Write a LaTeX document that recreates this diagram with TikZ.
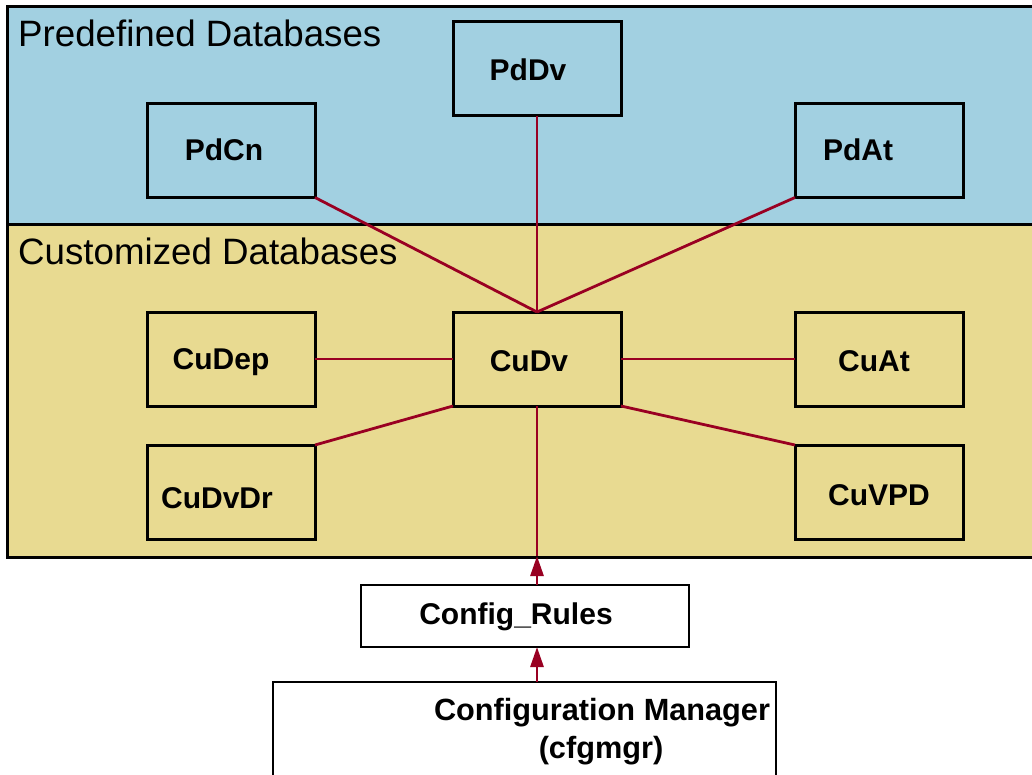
\documentclass[tikz,border=0pt]{standalone}
\usepackage{fontspec}
\setmainfont{Liberation Sans}
\usetikzlibrary{arrows.meta}
\definecolor{predblue}{RGB}{162,208,225}
\definecolor{custyellow}{RGB}{232,218,145}
\definecolor{linkred}{RGB}{153,0,34}
\tikzset{
  dbbox/.style={draw=black, line width=3pt, minimum width=168pt, minimum height=94pt, inner sep=0pt, outer sep=0pt},
  dblabel/.style={font=\fontsize{30}{32}\selectfont\bfseries, anchor=base, inner sep=0pt},
  mgrlabel/.style={font=\fontsize{30.7}{32}\selectfont\bfseries, anchor=base, inner sep=0pt},
  header/.style={font=\fontsize{36.7}{38}\selectfont, anchor=base west, inner sep=0pt},
  cfgbox/.style={draw=black, line width=1.5pt, fill=white, inner sep=0pt, outer sep=0pt},
  link/.style={draw=linkred, line width=2.8pt},
  arrowlink/.style={draw=linkred, line width=2.8pt, -{Triangle[length=20pt,width=13pt]}},
}
\begin{document}
\begin{tikzpicture}[x=1pt,y=-1pt]
\useasboundingbox (0,0) rectangle (1032,775);
\fill[white] (0,0) rectangle (1032,775);
% regions
\fill[predblue] (7.5,7) rectangle (1045,225);
\fill[custyellow] (7.5,225) rectangle (1045,557);
\draw[line width=3pt] (1045,7) -- (7.5,7) -- (7.5,557) -- (1045,557);
\draw[line width=3pt] (7.5,225) -- (1045,225);
\node[header] (hpre) at (18,47) {Predefined Databases};
\node[header] (hcus) at (18,265) {Customized Databases};
% boxes
\node[dbbox] (pddv) at (537,69) {};
\node[dbbox] (pdcn) at (231,150.5) {};
\node[dbbox] (pdat) at (879,150.5) {};
\node[dbbox] (cudep) at (231,359) {};
\node[dbbox] (cudv) at (537,359) {};
\node[dbbox] (cuat) at (879,359) {};
\node[dbbox] (cudvdr) at (231,492) {};
\node[dbbox] (cuvpd) at (879,492) {};
\node[dblabel] (pddvt) at (528,81) {PdDv};
\node[dblabel] (pdcnt) at (224,161) {PdCn};
\node[dblabel] (pdatt) at (858,161) {PdAt};
\node[dblabel] (cudept) at (221,369) {CuDep};
\node[dblabel] (cudvt) at (529,371) {CuDv};
\node[dblabel] (cuatt) at (874,371) {CuAt};
\node[dblabel] (cudvdrt) at (217,508) {CuDvDr};
\node[dblabel] (cuvpdt) at (879,505) {CuVPD};
% config boxes
\node[cfgbox, minimum width=328pt, minimum height=62pt] (rules) at (525,616) {};
\node[dblabel] (rulest) at (516,624) {Config\_Rules};
\node[cfgbox, minimum width=503pt, minimum height=130pt] (mgr) at (524.5,747) {};
\node[mgrlabel] (mgrt1) at (602,720) {Configuration Manager};
\node[mgrlabel] (mgrt2) at (601,758) {(cfgmgr)};
\coordinate (regbot) at (537,556);
% links
\draw[link] (pdcn.south east) -- (cudv.north);
\draw[link] (pddv.south) -- (cudv.north);
\draw[link] (pdat.south west) -- (cudv.north);
\draw[link] (cudep.east) -- (cudv.west);
\draw[link] (cudv.east) -- (cuat.west);
\draw[link] (cudv.south west) -- (cudvdr.north east);
\draw[link] (cudv.south east) -- (cuvpd.north west);
\draw[link] (cudv.south) -- (regbot);
\draw[arrowlink] (rules.north -| regbot) -- (regbot);
\draw[arrowlink] (mgr.north -| regbot) -- (rules.south -| regbot);
\end{tikzpicture}
\end{document}
